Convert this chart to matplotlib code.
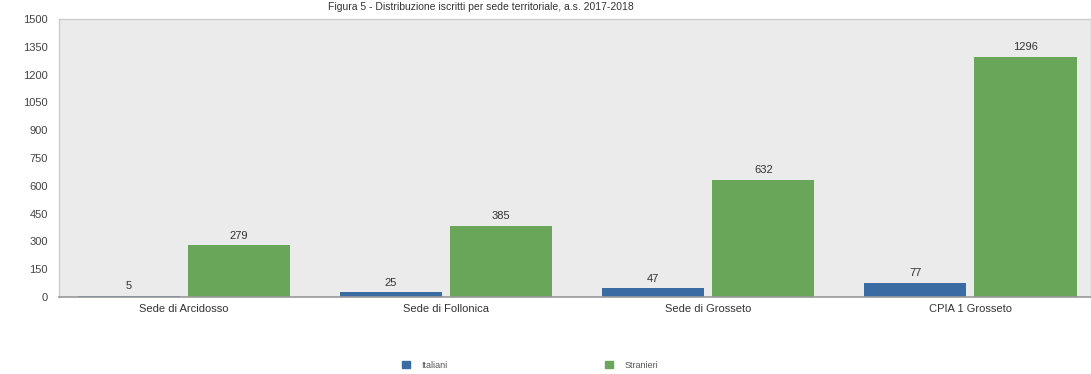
import matplotlib
matplotlib.use("Agg")
import matplotlib.pyplot as plt
import numpy as np

categories = ["Sede di Arcidosso", "Sede di Follonica", "Sede di Grosseto", "CPIA 1 Grosseto"]
italiani = [5, 25, 47, 77]
stranieri = [279, 385, 632, 1296]
yticks = [0, 150, 300, 450, 600, 750, 900, 1050, 1200, 1350, 1500]
title = "Figura 5 - Distribuzione iscritti per sede territoriale, a.s. 2017-2018"

plt.rcParams['font.family'] = ['Liberation Sans', 'DejaVu Sans']

fig = plt.figure(figsize=(10.91, 3.74), dpi=100)
ax = fig.add_axes([59/1091, 1-297/374, 1-59/1091, (297-19)/374])
ax.set_facecolor('#ebebeb')

x = np.arange(len(categories))
w = 0.39
off = 0.21
blue = '#3b6ba3'
green = '#6aa65a'
b1 = ax.bar(x - off, italiani, w, color=blue, zorder=2)
b2 = ax.bar(x + off, stranieri, w, color=green, zorder=2)

for rect, v in zip(b1, italiani):
    ax.text(rect.get_x() + rect.get_width()/2, v + 25, str(v), ha='center', va='bottom',
            fontsize=8, color='#333333')
for rect, v in zip(b2, stranieri):
    ax.text(rect.get_x() + rect.get_width()/2, v + 25, str(v), ha='center', va='bottom',
            fontsize=8, color='#333333')

ax.set_xlim(-0.477, 3.46)
ax.set_ylim(0, 1500)
ax.set_yticks(yticks)
ax.set_yticklabels([str(t) for t in yticks], fontsize=8, color='#444444')
ax.set_xticks(x)
ax.set_xticklabels(categories, fontsize=8, color='#333333')
ax.tick_params(length=0, pad=8)
ax.tick_params(axis='x', pad=5)
for s in ['top', 'left', 'right']:
    ax.spines[s].set_color('#cccccc')
    ax.spines[s].set_linewidth(1.0)
ax.spines['bottom'].set_color('#999999')
ax.spines['bottom'].set_linewidth(1.2)

fig.text(481/1091, 1-7/374, title, ha='center', va='center', fontsize=7.5, color='#333333')

handles = [plt.Rectangle((0, 0), 1, 1, color=blue), plt.Rectangle((0, 0), 1, 1, color=green)]
fig.legend(handles, ["Italiani", "Stranieri"], loc='center', bbox_to_anchor=(530/1091, 1-365/374),
           ncol=2, frameon=False, fontsize=6.5, handlelength=0.9, handleheight=0.9,
           columnspacing=17.5, handletextpad=1.2, labelcolor='#555555')

fig.savefig("out.png", dpi=100)
